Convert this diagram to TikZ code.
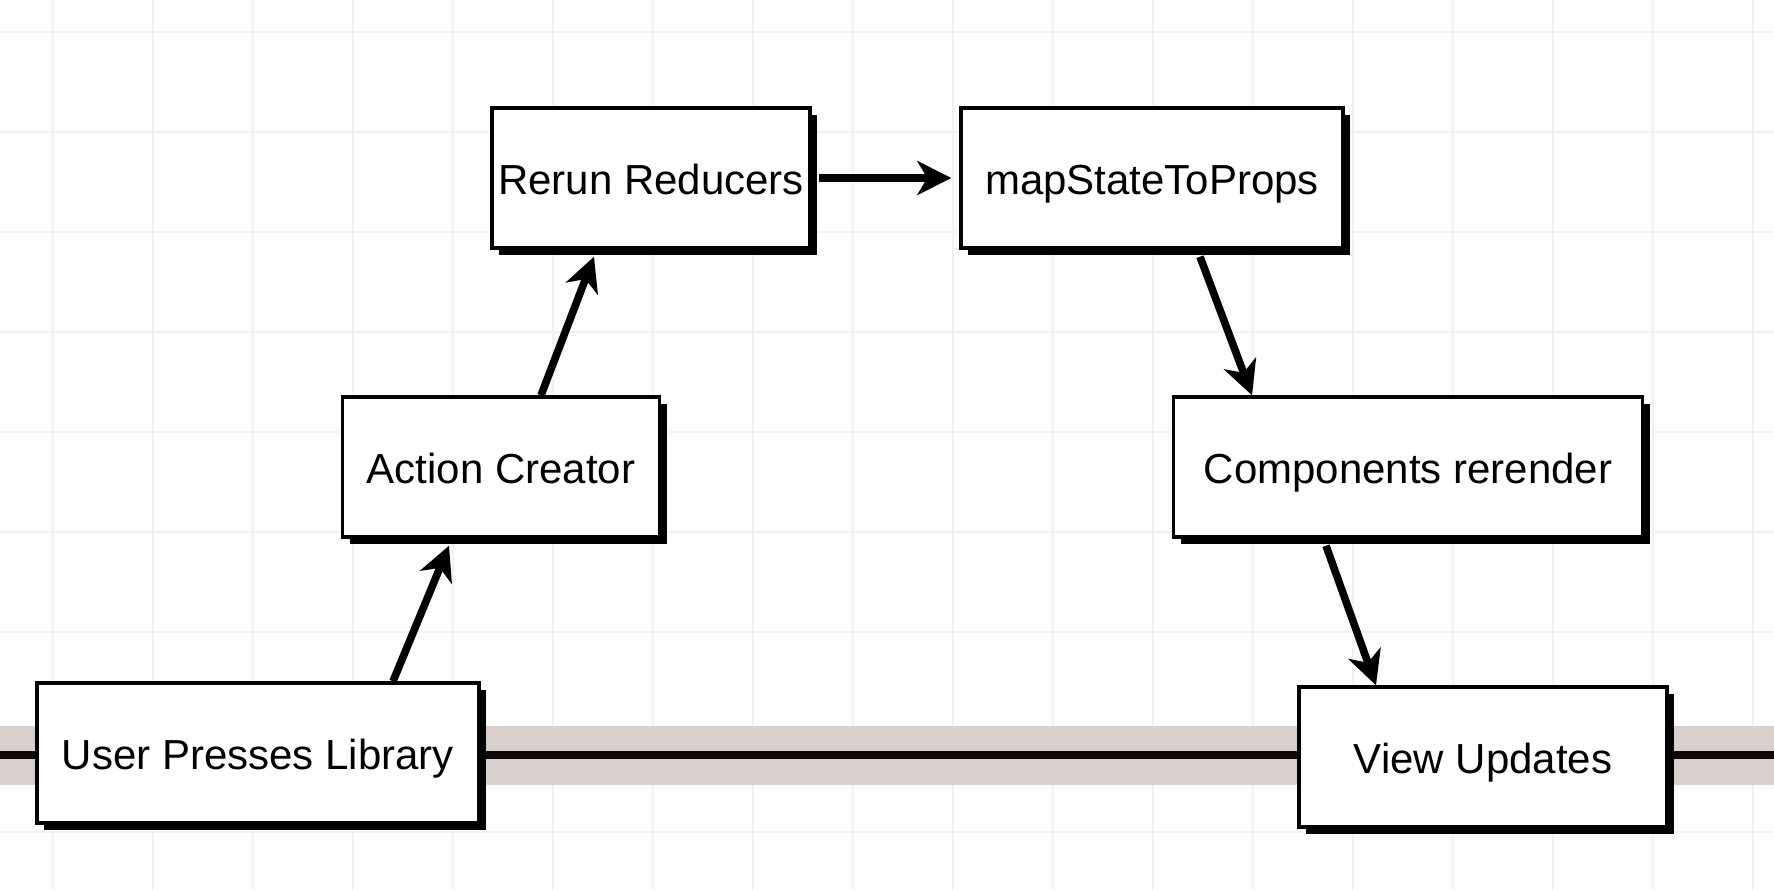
\documentclass[tikz,border=0pt]{standalone}
\usepackage{fontspec}
\setmainfont{Liberation Sans}
\usetikzlibrary{positioning, math, shadows, arrows.meta}
\definecolor{paper}{HTML}{FDFDFD}
\definecolor{gridline}{HTML}{F1F1F1}
\definecolor{band}{HTML}{D9D0CE}
\definecolor{ink}{HTML}{0E0808}
\tikzset{
stage/.style={draw, line width=1.7pt, fill=white, minimum height=70pt, inner sep=0pt,
  font=\fontsize{21}{25}\selectfont, text height=18pt, text depth=2pt,
  drop shadow={shadow xshift=3.5pt, shadow yshift=-3.5pt, opacity=1, fill=black}},
flow/.style={line width=3.8pt, -{Stealth[length=17pt, width=17pt, inset=5pt]}},
}

\begin{document}
\begin{tikzpicture}[x=0.5pt, y=-0.5pt]
    \tikzmath{ \gap=100; };  % grid spacing

    % page and grid
    \fill[paper] (0,0) rectangle (1774,890);
    \useasboundingbox (0,0) rectangle (1774,890);
    \foreach \gx in {53,153,...,1753}
        \draw[gridline, line width=0.8pt] (\gx,0) -- (\gx,890);
    \foreach \gy in {32,132,...,832}
        \draw[gridline, line width=0.8pt] (0,\gy) -- (1774,\gy);

    % time line
    \coordinate (lineW) at (0,755);
    \coordinate (lineE) at (1774,755);
    \draw[band, line width=29.5pt] (lineW) -- (lineE);
    \draw[ink, line width=4pt] (lineW) -- (lineE);

    % boxes, top row
    \node[stage, minimum width=159pt]   (rerun) at (651,178) {Rerun Reducers};
    \node[stage, minimum width=191pt] (mapstate) at (1152,178) {mapStateToProps};

    % boxes, middle row
    \node[stage, minimum width=158.5pt] (action) at (501,467) {Action Creator};
    \node[stage, minimum width=234.5pt] (rerender) at (1408,467) {Components rerender};

    % boxes on the line
    \node[stage, minimum width=221pt]   (user) at (258,753) {User Presses Library};
    \node[stage, minimum width=184pt]   (view) at (1483,757) {View Updates};

    % arrows
    \draw[flow] ([xshift=67.5pt]user.north) -- ([xshift=-26pt,yshift=-3.5pt]action.south);
    \draw[flow] ([xshift=20pt]action.north) -- ([xshift=-28.5pt,yshift=-3.5pt]rerun.south);
    \draw[flow] ([xshift=3.5pt]rerun.east) -- ([xshift=-4pt]mapstate.west);
    \draw[flow] ([xshift=24pt,yshift=-3.5pt]mapstate.south) -- ([xshift=-78pt]rerender.north);
    \draw[flow] ([xshift=-41pt,yshift=-3.5pt]rerender.south) -- ([xshift=-53.5pt]view.north);
\end{tikzpicture}
\end{document}
